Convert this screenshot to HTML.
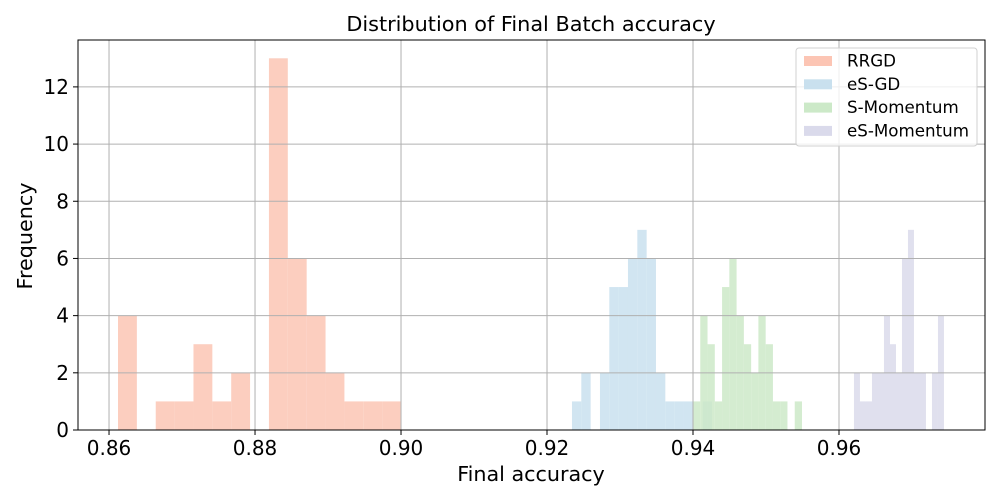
<!DOCTYPE html>
<html><head><meta charset="utf-8"><style>
body{margin:0;background:#fff;font-family:"DejaVu Sans","Liberation Sans",sans-serif;}
</style></head><body>
<svg id="chart" width="1000" height="500" xmlns="http://www.w3.org/2000/svg" font-family="DejaVu Sans, Liberation Sans, sans-serif"></svg>
<script>
const seriesNames = ["RRGD","eS-GD","S-Momentum","eS-Momentum"];
const seriesColors = ["#fcc5b4","#c9e0ee","#cce9c8","#dadaeb"];
const rrgdRange = [0.86123, 0.9000];
const rrgdCounts = [4,0,1,1,3,1,2,0,13,6,4,2,1,1,1];
const esgdRange = [0.92342, 0.94260];
const esgdCounts = [1,2,0,2,5,5,6,7,6,2,1,1,1,0,1];
const smomRange = [0.9400, 0.95493];
const smomCounts = [1,4,3,1,5,6,4,3,2,4,3,1,1,0,1];
const esmomRange = [0.96205, 0.97438];
const esmomCounts = [2,1,1,2,2,4,3,2,6,7,2,2,0,2,4];
const xTicks = [0.86,0.88,0.90,0.92,0.94,0.96];
const yTicks = [0,2,4,6,8,10,12];

const L=78,R=985,T=40,B=430;
const xMin=0.85575,xMax=0.98,yMax=13.64;
const X=v=>L+(v-xMin)/(xMax-xMin)*(R-L);
const Y=v=>B-v/yMax*(B-T);
const svg=document.getElementById('chart');
const NS="http://www.w3.org/2000/svg";
function mk(tag,attrs,parent){const e=document.createElementNS(NS,tag);for(const k in attrs)e.setAttribute(k,attrs[k]);(parent||svg).appendChild(e);return e;}

// bars
const all=[[rrgdRange,rrgdCounts],[esgdRange,esgdCounts],[smomRange,smomCounts],[esmomRange,esmomCounts]];
all.forEach((s,si)=>{
  const [rg,cs]=s;const w=(rg[1]-rg[0])/cs.length;
  cs.forEach((c,i)=>{if(!c)return;
    const x0=X(rg[0]+i*w),x1=X(rg[0]+(i+1)*w);
    const r=mk('rect',{x:x0,y:Y(c),width:x1-x0,height:Y(0)-Y(c),fill:seriesColors[si],'fill-opacity':0.85});
    
    
  });
});

// grid
xTicks.forEach(t=>{const l=mk('line',{x1:X(t),x2:X(t),y1:T,y2:B,stroke:'#b0b0b0','stroke-width':1});

});
yTicks.forEach(t=>{const l=mk('line',{x1:L,x2:R,y1:Y(t),y2:Y(t),stroke:'#b0b0b0','stroke-width':1});

});

// frame
const f=mk('rect',{x:L,y:T,width:R-L,height:B-T,fill:'none',stroke:'#000','stroke-width':1});



// ticks
xTicks.forEach(t=>{mk('line',{x1:X(t),x2:X(t),y1:B,y2:B+5,stroke:'#000'});
const tx=mk('text',{x:X(t),y:B+25,'text-anchor':'middle','font-size':20});tx.textContent=t.toFixed(2);

});
yTicks.forEach(t=>{mk('line',{x1:L-5,x2:L,y1:Y(t),y2:Y(t),stroke:'#000'});
const tx=mk('text',{x:L-9,y:Y(t)+7,'text-anchor':'end','font-size':20});tx.textContent=t;

});

// titles
let t=mk('text',{x:531,y:31,'text-anchor':'middle','font-size':20.8});t.textContent='Distribution of Final Batch accuracy';


t=mk('text',{x:531,y:481,'text-anchor':'middle','font-size':20.7});t.textContent='Final accuracy';


t=mk('text',{x:32,y:236,'text-anchor':'middle','font-size':20.7,transform:'rotate(-90 32 236)'});t.textContent='Frequency';



// legend
const lg=mk('rect',{x:796,y:48,width:181,height:98,rx:3,fill:'#fff','fill-opacity':0.8,stroke:'#d0d0d0'});


seriesNames.forEach((n,i)=>{
  const y=61+i*23.3;
  const sw=mk('rect',{x:804,y:y-5,width:28,height:10,fill:seriesColors[i]});
  
  
  const tx=mk('text',{x:847,y:y+5.5,'font-size':16.7});tx.textContent=n;
  
  
});
</script>
</body></html>
